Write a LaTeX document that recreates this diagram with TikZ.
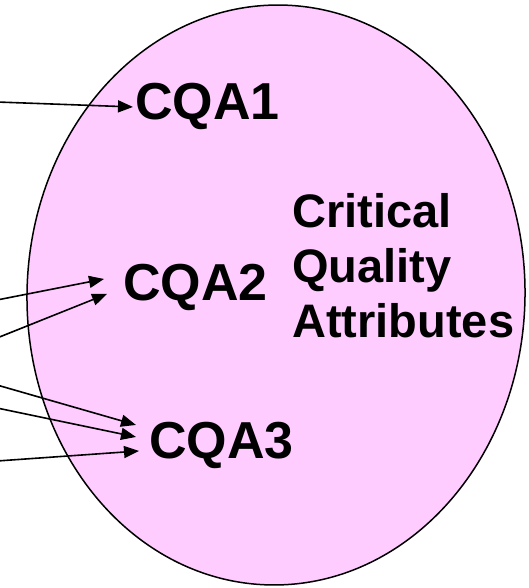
\documentclass[tikz,border=0pt]{standalone}
\usepackage{fontspec}
\setmainfont{Liberation Sans}
\usepackage{tikz}
\usetikzlibrary{arrows.meta,calc,shapes.geometric}
\definecolor{attrpink}{RGB}{255,204,255}
\tikzset{
  feed/.style={-{Triangle[length=15pt,width=12pt]},line width=1.6pt},
  region/.style={draw=black,line width=1.5pt,fill=attrpink,ellipse,inner sep=0pt},
  cqa/.style={inner sep=0pt,anchor=base west,font=\fontsize{52}{60}\selectfont\bfseries},
  heading/.style={inner sep=0pt,anchor=west,align=left,font=\fontsize{47}{55}\selectfont\bfseries},
}
\begin{document}
\begin{tikzpicture}[x=1pt,y=-1pt]
  \useasboundingbox[fill=white] (0,0) rectangle (529,588);
  \node[region,minimum width=498pt,minimum height=580pt,rotate=-1.5] (attrs) at (276,295) {};

  \node[cqa] (cqa1) at (135,120) {CQA1};
  \node[cqa] (cqa2) at (123,300) {CQA2};
  \node[cqa] (cqa3) at (149,458) {CQA3};
  \node[heading] (crit) at (292,266) {Critical\\Quality\\Attributes};

  \coordinate (in1) at (-3,102);
  \coordinate (in2) at (-3,300);
  \coordinate (in3) at (-3,338);
  \coordinate (in4) at (-3,385);
  \coordinate (in5) at (-3,408);
  \coordinate (in6) at (-3,461);

  \draw[feed] (in1) -- ([xshift=-2pt]cqa1.west);
  \draw[feed] (in2) -- ([xshift=-19pt,yshift=8pt]cqa2.west);
  \draw[feed] (in3) -- ([xshift=-16pt,yshift=-7pt]cqa2.west);
  \draw[feed] (in4) -- ([xshift=-13pt,yshift=20pt]cqa3.west);
  \draw[feed] (in5) -- ([xshift=-13pt,yshift=8pt]cqa3.west);
  \draw[feed] (in6) -- ([xshift=-10pt,yshift=-6pt]cqa3.west);
\end{tikzpicture}
\end{document}
